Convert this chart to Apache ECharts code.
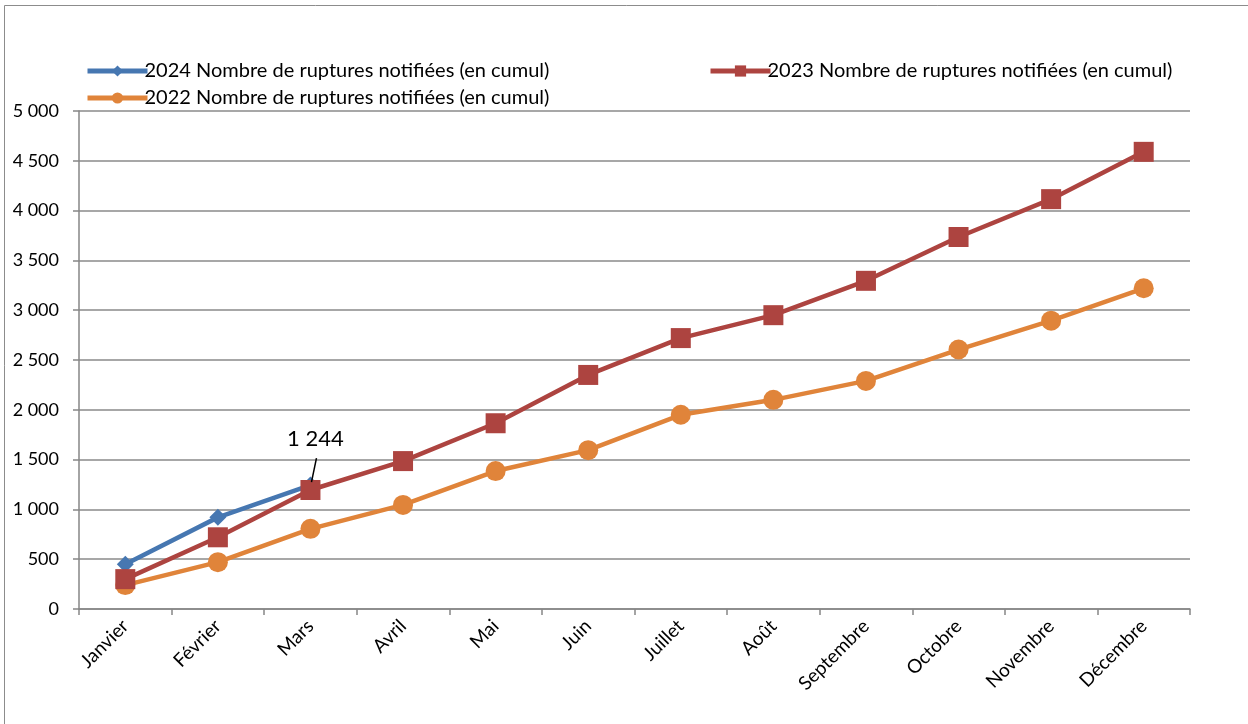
<!DOCTYPE html>
<html>
<head>
<meta charset="utf-8">
<script src="https://cdn.jsdelivr.net/npm/echarts@6/dist/echarts.min.js"></script>
<style>
  html, body { margin: 0; padding: 0; background: #fff; }
  #chart { width: 1248px; height: 724px; }
</style>
</head>
<body>
<div id="chart"></div>
<script>
// Months on the category axis
const months = ['Janvier', 'Février', 'Mars', 'Avril', 'Mai', 'Juin', 'Juillet', 'Août', 'Septembre', 'Octobre', 'Novembre', 'Décembre'];

// Cumulative counts of notified shortages per year
const cumul2024 = [450, 920, 1244];
const cumul2023 = [300, 720, 1195, 1485, 1865, 2350, 2720, 2950, 3295, 3735, 4115, 4590];
const cumul2022 = [240, 470, 805, 1045, 1385, 1595, 1950, 2100, 2290, 2605, 2895, 3220];

const name2024 = '2024 Nombre de ruptures notifiées (en cumul)';
const name2023 = '2023 Nombre de ruptures notifiées (en cumul)';
const name2022 = '2022 Nombre de ruptures notifiées (en cumul)';

const FONT = 'Lato';
const fmt = v => String(v).replace(/\B(?=(\d{3})+(?!\d))/g, ' ');

const chart = echarts.init(document.getElementById('chart'), null, { renderer: 'canvas' });

const legendBase = {
  orient: 'horizontal', padding: 0, itemWidth: 60, itemHeight: 14, itemGap: 0,
  textStyle: { fontFamily: FONT, fontSize: 20, color: '#000', padding: [0, 0, 0, -8] },
  lineStyle: { width: 5 },
  selectedMode: false
};

const lastIdx = cumul2024.length - 1;

chart.setOption({
  animation: false,
  backgroundColor: '#fff',
  graphic: [{
    type: 'rect', id: 'frame',
    shape: { x: 4.5, y: 5.5, width: 1250, height: 730 },
    style: { fill: 'none', stroke: '#8c8c8c', lineWidth: 1 }
  }],
  legend: [
    Object.assign({ left: 85, top: 61, data: [name2024] }, legendBase),
    Object.assign({ left: 708, top: 61, data: [name2023] }, legendBase),
    Object.assign({ left: 85, top: 88, data: [name2022] }, legendBase)
  ],
  grid: { left: 79, right: 58, top: 111, bottom: 115, containLabel: false },
  xAxis: {
    type: 'category',
    data: months,
    boundaryGap: true,
    axisLine: { lineStyle: { color: '#868686', width: 1.5 } },
    axisTick: { show: true, alignWithLabel: false, length: 6, lineStyle: { color: '#868686', width: 1.5 } },
    axisLabel: { rotate: 45, interval: 0, fontFamily: FONT, fontSize: 19, color: '#000', margin: 14 }
  },
  yAxis: {
    type: 'value',
    min: 0, max: 5000, interval: 500,
    axisLine: { show: true, lineStyle: { color: '#868686', width: 1.5 } },
    axisTick: { show: true, length: 6, lineStyle: { color: '#868686', width: 1.5 } },
    splitLine: { lineStyle: { color: '#8a8a8a', width: 1.5 } },
    axisLabel: { fontFamily: FONT, fontSize: 18, color: '#000', margin: 20, formatter: fmt }
  },
  series: [
    {
      name: name2023, type: 'line', data: cumul2023, z: 3,
      symbol: 'rect', symbolSize: 20,
      lineStyle: { width: 4.5, color: '#ad4440' },
      itemStyle: { color: '#ad4440' }
    },
    {
      name: name2022, type: 'line', data: cumul2022, z: 2,
      symbol: 'circle', symbolSize: 20,
      lineStyle: { width: 4.5, color: '#e0843a' },
      itemStyle: { color: '#e0843a' }
    },
    {
      name: name2024, type: 'line', z: 2,
      data: cumul2024.map((v, i) => i === lastIdx ? {
        value: v,
        label: {
          show: true, position: 'top', offset: [5, -22], formatter: p => fmt(p.value),
          fontFamily: FONT, fontSize: 22, color: '#000'
        }
      } : v),
      symbol: 'diamond', symbolSize: 17,
      lineStyle: { width: 4.5, color: '#4677b1' },
      itemStyle: { color: '#4677b1' }
    }
  ]
});

// Leader line from the "1 244" label down to its point
const [px, py] = chart.convertToPixel({ xAxisIndex: 0, yAxisIndex: 0 }, [months[lastIdx], cumul2024[lastIdx]]);
chart.setOption({
  graphic: [{
    type: 'line', id: 'leader', z: 10,
    shape: { x1: px + 6, y1: py - 27, x2: px + 1, y2: py - 3 },
    style: { stroke: '#000', lineWidth: 1.5 }
  }]
});
</script>
</body>
</html>
